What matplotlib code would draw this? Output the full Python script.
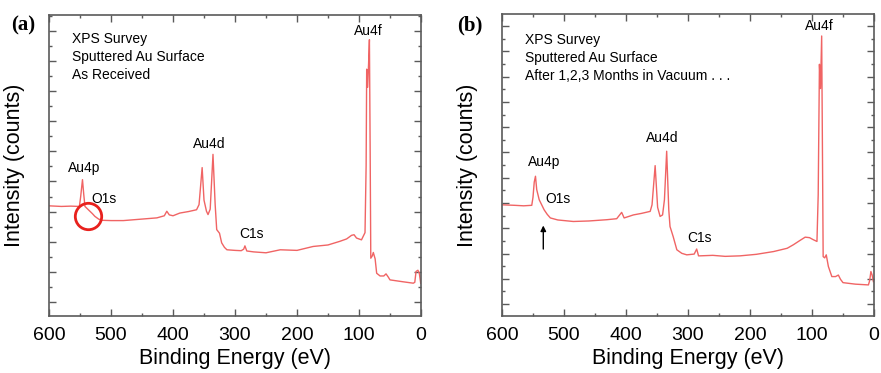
import numpy as np
import matplotlib
matplotlib.use("Agg")
import matplotlib.pyplot as plt
from matplotlib.ticker import FixedLocator, MultipleLocator

plt.rcParams['font.family'] = ['Liberation Sans', 'DejaVu Sans']

# --- XPS survey spectra (binding energy in eV, intensity in arbitrary units) ---
be_a = [600, 580, 565, 551, 549, 546, 544, 542, 538, 534, 530, 526, 520, 515,
        500, 480, 450, 426, 414, 410, 406, 400, 389, 375, 362, 358, 353, 350,
        346, 343.5, 340, 335.5, 332, 329.5, 325, 321.5, 317, 313, 300, 290,
        286, 284, 281, 270, 250, 227, 200, 174, 150, 131, 120, 112, 108, 104,
        96, 90.3, 88.5, 87.6, 86, 84.5, 83.2, 82, 81, 78.5, 76.9, 74, 71.5,
        66, 60, 56.4, 53, 50, 30, 12.4, 10, 8, 5, 2.7, 0.5]
int_a = [3.66, 3.64, 3.65, 3.64, 3.95, 4.53, 4.05, 3.64, 3.56, 3.48, 3.40,
         3.31, 3.22, 3.18, 3.17, 3.17, 3.22, 3.26, 3.33, 3.48, 3.36, 3.33,
         3.42, 3.47, 3.53, 3.70, 4.93, 3.85, 3.48, 3.37, 3.55, 5.37, 3.70,
         2.87, 2.75, 2.43, 2.28, 2.20, 2.18, 2.17, 2.22, 2.33, 2.16, 2.13,
         2.10, 2.20, 2.18, 2.31, 2.36, 2.48, 2.56, 2.68, 2.70, 2.59, 2.53,
         2.77, 5.00, 8.20, 7.60, 8.40, 9.18, 5.50, 1.92, 2.00, 2.11, 1.90,
         1.42, 1.33, 1.33, 1.40, 1.30, 1.20, 1.14, 1.09, 1.12, 1.48, 1.52,
         1.42, 1.09]

be_b = [600, 580, 565, 552, 550, 548, 546, 544, 540, 536, 532, 527, 522, 510,
        485, 460, 431, 415, 407, 403, 398, 388, 375, 361, 358, 353, 349, 345,
        341, 338, 334.4, 331, 329, 324, 318, 310, 302, 290, 286, 283, 281,
        260, 240, 216, 190, 162, 140, 130, 120, 111, 104, 98, 92, 90, 88,
        86.3, 84.4, 83, 82, 79.5, 77, 73.6, 68, 62, 57.5, 54, 50, 30, 9, 7,
        5, 3, 1]
int_b = [4.40, 4.38, 4.36, 4.38, 4.70, 5.30, 5.53, 5.00, 4.60, 4.40, 4.20,
         4.02, 3.88, 3.80, 3.74, 3.76, 3.81, 3.85, 4.10, 3.88, 3.92, 4.00,
         4.06, 4.14, 4.40, 5.95, 4.30, 3.94, 4.00, 4.60, 6.52, 4.20, 3.54,
         3.15, 2.62, 2.48, 2.42, 2.45, 2.65, 2.38, 2.38, 2.40, 2.36, 2.38,
         2.44, 2.55, 2.68, 2.82, 2.98, 3.12, 3.10, 3.02, 2.95, 4.80, 9.96,
         9.00, 11.08, 6.00, 2.35, 2.30, 2.42, 1.96, 1.56, 1.56, 1.62, 1.45,
         1.32, 1.26, 1.23, 1.40, 1.76, 1.62, 1.36]

x_ticks = [600, 500, 400, 300, 200, 100, 0]
x_ticklabels = ['600', '500', '400', '300', '200', '100', '0']

line_color = '#f06464'
frame_color = '#5a5a5a'

W, H = 881, 373
fig = plt.figure(figsize=(W / 100, H / 100), dpi=100)

ax_a = fig.add_axes([49 / W, 57 / H, 372 / W, 301 / H])
ax_b = fig.add_axes([502 / W, 57 / H, 372 / W, 302 / H])


def style_axes(ax, ytop):
    ax.set_xlim(600, 0)
    ax.set_ylim(0, ytop)
    ax.xaxis.set_major_locator(FixedLocator(x_ticks))
    ax.set_xticklabels(x_ticklabels, fontsize=14)
    ax.xaxis.set_minor_locator(MultipleLocator(50))
    ax.yaxis.set_major_locator(FixedLocator(np.arange(0.47, ytop, 1.0)))
    ax.yaxis.set_minor_locator(FixedLocator(np.arange(0.97, ytop, 1.0)))
    ax.set_yticklabels([])
    ax.tick_params(which='both', direction='in', top=True, right=True,
                   color=frame_color, width=1.0)
    ax.tick_params(which='major', length=5, pad=8)
    ax.tick_params(which='minor', length=2.5)
    for s in ax.spines.values():
        s.set_color(frame_color)
        s.set_linewidth(1.2)
    ax.set_xlabel('Binding Energy (eV)', fontsize=15.5, labelpad=3)
    ax.set_ylabel('Intensity (counts)', fontsize=15.5, labelpad=9)


style_axes(ax_a, 10.0)
style_axes(ax_b, 11.95)

ax_a.plot(be_a, int_a, color=line_color, lw=1.0)
ax_b.plot(be_b, int_b, color=line_color, lw=1.0)

# descriptive text blocks
for ax, lines, ys in [
        (ax_a, ['XPS Survey', 'Sputtered Au Surface', 'As Received'],
         [0.920, 0.860, 0.801]),
        (ax_b, ['XPS Survey', 'Sputtered Au Surface',
                'After 1,2,3 Months in Vacuum . . .'],
         [0.914, 0.854, 0.795])]:
    for t, y in zip(lines, ys):
        ax.text(0.062, y, t, transform=ax.transAxes, fontsize=10,
                ha='left', va='center')

# peak labels
peak_names = ['Au4f', 'Au4d', 'Au4p', 'O1s', 'C1s']
pos_a = [(85.5, 9.47), (342, 5.70), (543.5, 4.93), (511, 3.90), (274, 2.73)]
pos_b = [(88.7, 11.47), (342, 7.06), (532, 6.11), (510, 4.64), (281, 3.10)]
for ax, pos in [(ax_a, pos_a), (ax_b, pos_b)]:
    for name, (x, y) in zip(peak_names, pos):
        ax.text(x, y, name, fontsize=10, ha='center', va='center')

# O1s highlight ring on panel (a)
ax_a.plot([537], [3.33], marker='o', ms=19, mfc='none', mec='#e8211d',
          mew=2.0)

# O1s arrow on panel (b)
ax_b.annotate('', xy=(533.4, 3.69), xytext=(533.4, 2.54),
              arrowprops=dict(arrowstyle='-|>', color='black', lw=1.0,
                              mutation_scale=8))

# panel letters
fig.text(23 / W, 1 - 25 / H, '(a)', fontsize=15, fontweight='bold',
         family='Liberation Serif', ha='center', va='center')
fig.text(470 / W, 1 - 25 / H, '(b)', fontsize=15, fontweight='bold',
         family='Liberation Serif', ha='center', va='center')

fig.savefig('out.png', dpi=100)
